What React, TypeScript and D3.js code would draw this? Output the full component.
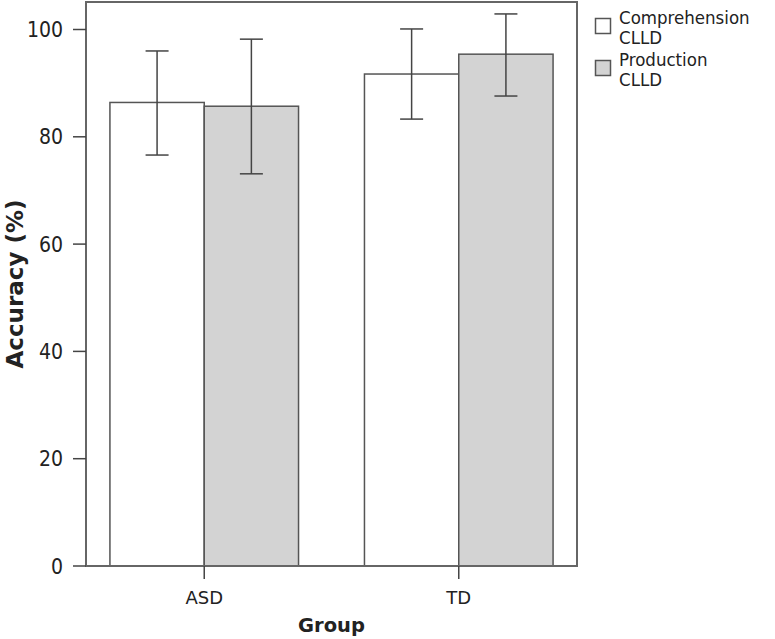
import React from "react";
import * as d3 from "d3";

const groups = ["ASD", "TD"];
const seriesNames = ["Comprehension CLLD", "Production CLLD"];
const seriesLines = [["Comprehension", "CLLD"], ["Production", "CLLD"]];
const seriesColors = ["#ffffff", "#d3d3d3"];
const means = [
  [86.4, 85.7],
  [91.7, 95.4],
];
const errLow = [
  [76.6, 73.1],
  [83.3, 87.6],
];
const errHigh = [
  [96.0, 98.2],
  [100.1, 102.9],
];
const yTicks = [0, 20, 40, 60, 80, 100];

export default function App() {
  const W = 775, H = 639;
  const left = 86, right = 577, top = 2, bottom = 566;
  const y = d3.scaleLinear().domain([0, 100]).range([bottom, 29.5]);
  const x = d3.scaleBand().domain(groups).range([left, right]).paddingInner(0.259).paddingOuter(0.094);
  const xs = d3.scaleBand().domain(seriesNames).range([0, x.bandwidth()]);
  const font = "'DejaVu Sans', Verdana, sans-serif";
  const cond = "'DejaVu Sans Condensed', 'DejaVu Sans', sans-serif";
  const stroke = "#555";
  return (
    <svg width={W} height={H} style={{ position: "absolute", left: 0, top: 0, background: "#fff" }} fontFamily={font}>
      {groups.map((g, gi) =>
        seriesNames.map((s, si) => {
          const bx = (x(g) as number) + (xs(s) as number);
          const bw = xs.bandwidth();
          return (
            <g key={g + s}>
              <rect x={bx} y={y(means[gi][si])} width={bw} height={bottom - y(means[gi][si])} fill={seriesColors[si]} stroke={stroke} strokeWidth={1.5} />
            </g>
          );
        })
      )}
      {groups.map((g, gi) =>
        seriesNames.map((s, si) => {
          const bx = (x(g) as number) + (xs(s) as number);
          const cx = bx + xs.bandwidth() / 2;
          const c = 11.5;
          return (
            <g key={"e" + g + s} stroke="#444" strokeWidth={1.5}>
              <line x1={cx} x2={cx} y1={y(errLow[gi][si])} y2={y(errHigh[gi][si])} />
              <line x1={cx - c} x2={cx + c} y1={y(errLow[gi][si])} y2={y(errLow[gi][si])} />
              <line x1={cx - c} x2={cx + c} y1={y(errHigh[gi][si])} y2={y(errHigh[gi][si])} />
            </g>
          );
        })
      )}
      <rect x={left} y={top} width={right - left} height={bottom - top} fill="none" stroke="#666" strokeWidth={2} />
      {yTicks.map((t) => (
        <g key={t}>
          <line x1={left - 13} x2={left} y1={y(t)} y2={y(t)} stroke="#444" strokeWidth={1.5} />
          <text x={63} y={y(t)} dy="0.36em" textAnchor="end" fontSize={21} fontFamily={cond} fill="#222">{t}</text>
        </g>
      ))}
      {groups.map((g) => {
        const cx = (x(g) as number) + x.bandwidth() / 2;
        return (
          <g key={g}>
            <line x1={cx} x2={cx} y1={bottom} y2={bottom + 13} stroke="#444" strokeWidth={1.5} />
            <text x={cx} y={bottom + 38} textAnchor="middle" fontSize={18} fill="#222">{g}</text>
          </g>
        );
      })}
      <text x={331.5} y={632} textAnchor="middle" fontSize={19.5} fontWeight="bold" fill="#222">Group</text>
      <text transform={`translate(23,${(top + bottom) / 2}) rotate(-90)`} textAnchor="middle" fontSize={23} fontWeight="bold" fill="#222">Accuracy (%)</text>
      {seriesNames.map((s, si) => (
        <g key={"l" + s} transform={`translate(0,${si * 42})`}>
          <rect x={595.5} y={18.5} width={15} height={15} fill={seriesColors[si]} stroke={stroke} strokeWidth={1.5} />
          {seriesLines[si].map((ln, li) => (
            <text key={li} x={619} y={23.5 + li * 20.5} fontSize={18.5} fontFamily={cond} fill="#222">{ln}</text>
          ))}
        </g>
      ))}
    </svg>
  );
}
